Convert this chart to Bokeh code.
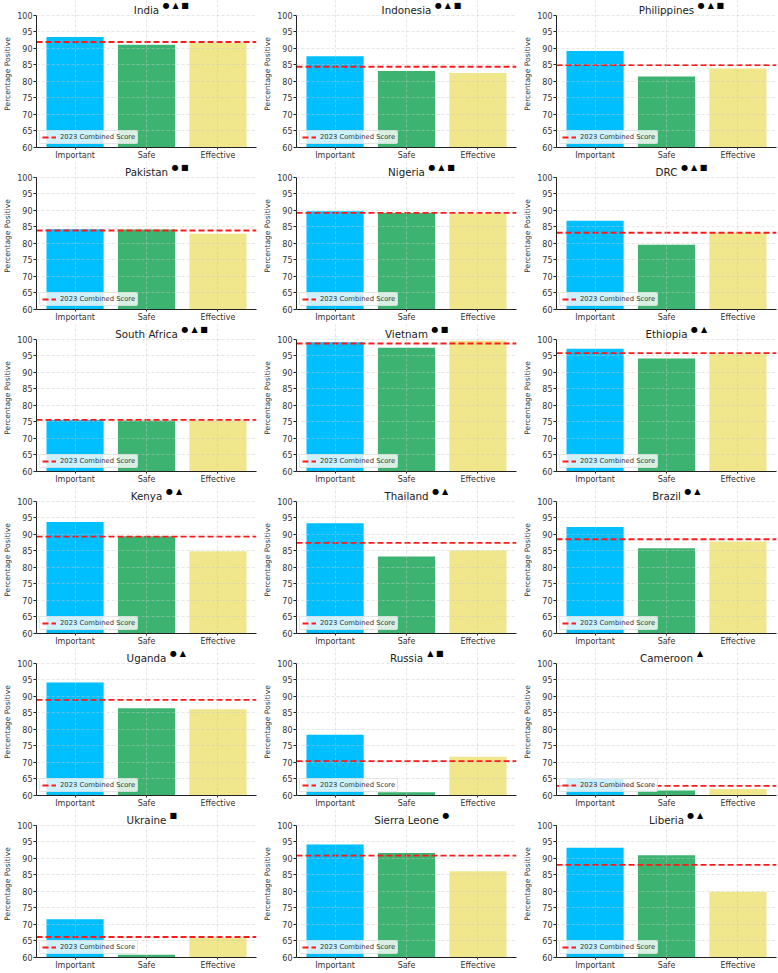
from bokeh.plotting import figure
from bokeh.layouts import gridplot
from bokeh.models import Range1d, FixedTicker, Label, Legend, LegendItem
from bokeh.embed import file_html
from bokeh.resources import INLINE

countries = ["India", "Indonesia", "Philippines",
             "Pakistan", "Nigeria", "DRC",
             "South Africa", "Vietnam", "Ethiopia",
             "Kenya", "Thailand", "Brazil",
             "Uganda", "Russia", "Cameroon",
             "Ukraine", "Sierra Leone", "Liberia"]
marks = ["●▲■", "●▲■", "●▲■",
         "●■", "●▲■", "●▲■",
         "●▲■", "●■", "●▲",
         "●▲", "●▲", "●▲",
         "●▲", "▲■", "▲",
         "■", "●", "●▲"]
important = [93.4, 87.6, 89.2,
             84.3, 89.7, 86.8,
             75.6, 99.1, 97.1,
             93.7, 93.3, 92.2,
             94.2, 78.4, 65.0,
             71.6, 94.2, 93.2]
safe = [91.1, 83.1, 81.5,
        84.2, 89.2, 79.6,
        75.4, 97.4, 94.2,
        89.4, 83.3, 85.8,
        86.4, 61.0, 61.5,
        60.8, 91.6, 90.9]
effective = [91.6, 82.5, 83.9,
             82.9, 89.0, 83.1,
             75.4, 99.5, 95.6,
             84.9, 85.1, 87.8,
             86.1, 71.7, 62.0,
             65.9, 86.1, 79.9]
combined = [91.9, 84.4, 84.9,
            83.9, 89.2, 83.2,
            75.6, 98.7, 95.8,
            89.3, 87.4, 88.5,
            88.9, 70.4, 62.9,
            66.2, 90.8, 88.0]
categories = ["Important", "Safe", "Effective"]
bar_colors = ["#00BFFF", "#3CB371", "#F0E68C"]
y_ticks = [60, 65, 70, 75, 80, 85, 90, 95, 100]
legend_label = "2023 Combined Score"

FONT = "DejaVu Sans"
TITLE_PX = 10.3
# DejaVu Sans advance widths (units per em = 2048) for title centring
ADV = {"a": 1255, "c": 1126, "d": 1300, "e": 1260, "f": 721, "g": 1300, "h": 1298,
       "i": 569, "k": 1186, "l": 569, "m": 1995, "n": 1298, "o": 1253, "p": 1300,
       "r": 842, "s": 1067, "t": 803, "u": 1298, "z": 1075, " ": 651, "v": 1212,
       "A": 1401, "B": 1405, "C": 1430, "D": 1577, "E": 1294, "I": 604, "K": 1343,
       "L": 1141, "N": 1532, "P": 1235, "R": 1423, "S": 1300, "T": 1251, "U": 1499,
       "V": 1401}


def text_width(s, px):
    return sum(ADV.get(ch, 1200) for ch in s) / 2048.0 * px


X0, X1 = -0.54, 2.54
Y0, Y1 = 60, 100
PLOT_H = 135          # pixels between 60 and 100
TOP_PAD = 15          # title space kept inside the frame
Y_TOP = Y1 + TOP_PAD * (Y1 - Y0) / PLOT_H
col_widths = [260, 260, 258]
H = 162
figs = []
for i, name in enumerate(countries):
    w = col_widths[i % 3]
    p = figure(width=w, height=H, output_backend="svg", toolbar_location=None,
               title=None,
               x_range=Range1d(X0, X1), y_range=Range1d(Y0, Y_TOP),
               min_border_left=30, min_border_right=w - 30 - 226,
               min_border_top=0, min_border_bottom=12,
               background_fill_color="white", border_fill_color="white")
    p.outline_line_color = None

    vals = [important[i], safe[i], effective[i]]
    p.vbar(x=[0, 1, 2], top=vals, bottom=0, width=0.8, fill_color=bar_colors,
           line_color=None)
    score = combined[i]
    r = p.line(x=[X0, X1], y=[score, score], line_color="#ff1a1a", line_width=1.9,
               line_dash="6 3")

    # grid
    p.xgrid.ticker = FixedTicker(ticks=[0, 1, 2])
    p.ygrid.ticker = FixedTicker(ticks=y_ticks)
    for g in (p.xgrid, p.ygrid):
        g.grid_line_color = "#c8c8c8"
        g.grid_line_alpha = 0.6
        g.grid_line_dash = "3 2"
        g.grid_line_width = 0.8
        g.level = "annotation"
    p.xgrid.bounds = (Y0, Y1)

    # axes
    p.xaxis.ticker = FixedTicker(ticks=[0, 1, 2])
    p.xaxis.major_label_overrides = {0: categories[0], 1: categories[1], 2: categories[2]}
    p.yaxis.ticker = FixedTicker(ticks=y_ticks)
    p.yaxis.bounds = (Y0, Y1)
    for ax in (p.xaxis[0], p.yaxis[0]):
        ax.major_label_text_font = FONT
        ax.major_label_text_font_size = "8px"
        ax.major_label_text_color = "#333333"
        ax.axis_line_color = "#222222"
        ax.axis_line_width = 1
        ax.major_tick_line_color = "#222222"
        ax.minor_tick_line_color = None
        ax.major_tick_in = 0
    p.xaxis.major_tick_out = 2
    p.xaxis.major_label_standoff = 1
    p.yaxis.major_tick_out = 3
    p.yaxis.major_label_standoff = 1
    p.yaxis.axis_label = "Percentage Positive"
    p.yaxis.axis_label_text_font = FONT
    p.yaxis.axis_label_text_font_size = "7.5px"
    p.yaxis.axis_label_text_font_style = "normal"
    p.yaxis.axis_label_text_color = "#333333"
    p.yaxis.axis_label_standoff = 2

    # legend
    legend = Legend(items=[LegendItem(label=legend_label, renderers=[r])],
                    location="bottom_left", margin=3, padding=2, spacing=0,
                    label_standoff=4, glyph_width=14, glyph_height=8,
                    label_height=8, label_text_font=FONT, label_text_font_size="6.8px",
                    label_text_color="#333333", label_text_baseline="middle",
                    background_fill_color="white", background_fill_alpha=0.8,
                    border_line_color="#cccccc", border_line_width=0.8,
                    border_radius=2)
    p.add_layout(legend)

    # title: country name centred, markers after it
    p.add_layout(Label(x=1, y=Y1, y_offset=5.5, text=name, text_align="center",
                       text_baseline="alphabetic", text_font=FONT,
                       text_font_size=f"{TITLE_PX}px", text_color="#222222"))
    half = text_width(name, TITLE_PX) / 2
    for k, m in enumerate(marks[i]):
        p.add_layout(Label(x=1, y=Y1, x_offset=half + 7 + 9.5 * k, y_offset=9.5,
                           text=m, text_align="center", text_baseline="middle",
                           text_font=FONT, text_font_size="8px", text_color="#000000"))
    figs.append(p)

grid = gridplot(figs, ncols=3, toolbar_location=None)
open("out.html", "w").write(file_html(grid, INLINE))
